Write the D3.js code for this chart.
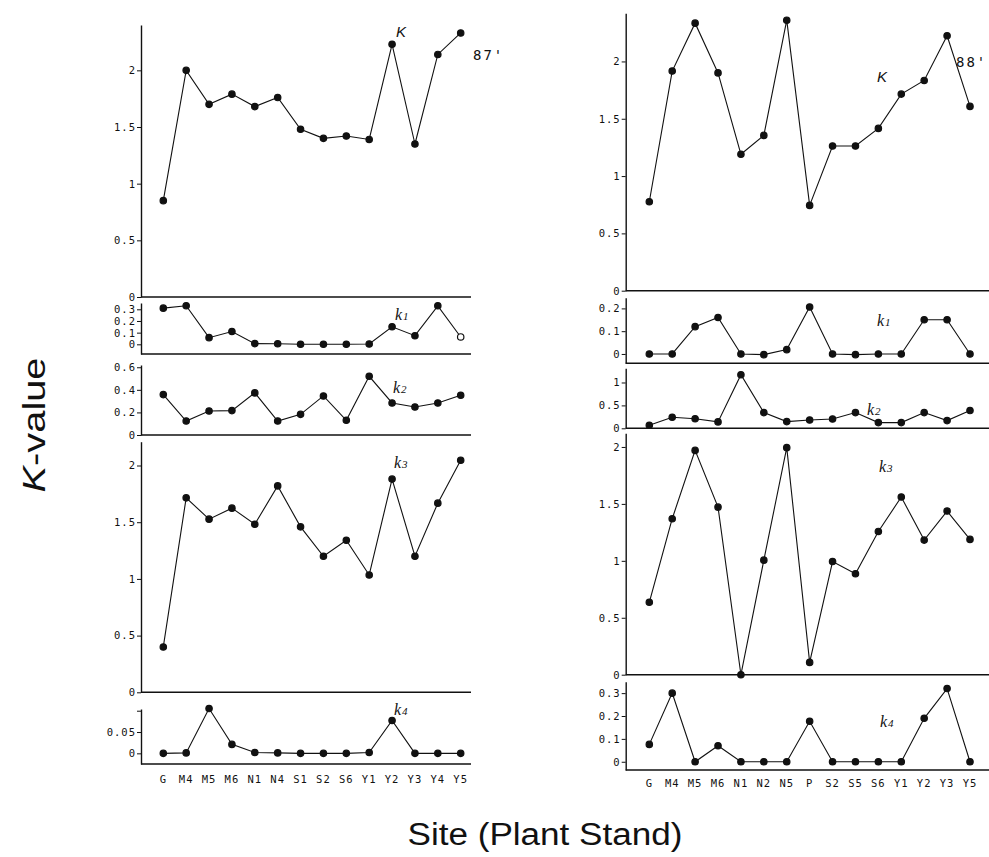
<!DOCTYPE html>
<html>
<head>
<meta charset="utf-8">
<script src="https://cdn.jsdelivr.net/npm/d3@7"></script>
<style>
  html, body { margin: 0; padding: 0; background: #fff; }
  svg { display: block; }
  .tick text { font-family: "DejaVu Sans Mono", "Liberation Mono", monospace; font-size: 10.5px; letter-spacing: 1px; fill: #111; }
  .cat { font-family: "DejaVu Sans Mono", "Liberation Mono", monospace; font-size: 10.5px; letter-spacing: 1px; fill: #111; }
</style>
</head>
<body>
<svg id="chart" width="989" height="857"></svg>
<script>
// ---------- DATA ----------
const sites87 = ["G","M4","M5","M6","N1","N4","S1","S2","S6","Y1","Y2","Y3","Y4","Y5"];
const sites88 = ["G","M4","M5","M6","N1","N2","N5","P","S2","S5","S6","Y1","Y2","Y3","Y5"];

const K87  = [0.85, 2.00, 1.70, 1.79, 1.68, 1.76, 1.48, 1.40, 1.42, 1.39, 2.23, 1.35, 2.14, 2.33];
const k1_87 = [0.31, 0.33, 0.057, 0.11, 0.006, 0.005, 0, 0, 0, 0.003, 0.15, 0.074, 0.33, 0.063];
const k2_87 = [0.358, 0.124, 0.213, 0.216, 0.373, 0.124, 0.183, 0.346, 0.13, 0.52, 0.284, 0.248, 0.284, 0.352];
const k3_87 = [0.40, 1.715, 1.527, 1.624, 1.482, 1.82, 1.459, 1.20, 1.341, 1.035, 1.88, 1.20, 1.668, 2.047];
const k4_87 = [0, 0.001, 0.105, 0.021, 0.002, 0.001, 0, 0, 0, 0.002, 0.077, 0, 0, 0];
const openPoints87k1 = ["Y5"];

const K88  = [0.776, 1.916, 2.334, 1.90, 1.19, 1.355, 2.36, 0.744, 1.262, 1.262, 1.416, 1.715, 1.834, 2.224, 1.608];
const k1_88 = [0, 0, 0.12, 0.16, 0, -0.003, 0.019, 0.206, 0, -0.003, 0, 0, 0.15, 0.15, 0];
const k2_88 = [0.066, 0.24, 0.21, 0.14, 1.17, 0.343, 0.146, 0.18, 0.204, 0.343, 0.124, 0.124, 0.343, 0.168, 0.387];
const k3_88 = [0.636, 1.37, 1.97, 1.472, 0, 1.006, 1.994, 0.108, 0.994, 0.886, 1.258, 1.56, 1.182, 1.437, 1.188];
const k4_88 = [0.076, 0.30, 0, 0.07, 0, 0, 0, 0.177, 0, 0, 0, 0, 0.19, 0.32, 0];

// tick labels
const ticksK    = [0, 0.5, 1, 1.5, 2];
const ticksK1_87 = [0, 0.1, 0.2, 0.3];
const ticksK2_87 = [0, 0.2, 0.4, 0.6];
const ticksK3   = [0, 0.5, 1, 1.5, 2];
const ticksK4_87 = [0, 0.05];
const ticksK4_87extra = [0.1];
const ticksK1_88 = [0, 0.1, 0.2];
const ticksK2_88 = [0, 0.5, 1];
const ticksK4_88 = [0, 0.1, 0.2, 0.3];

const yearLabels = ["87'", "88'"];
const seriesNames = ["K", "k1", "k2", "k3", "k4"];

// ---------- LAYOUT ----------
const svg = d3.select("#chart");

const cols = [
  { sites: sites87, x0: 141, x1: 471, p0: 163.3, p1: 460.7, year: yearLabels[0], yearX: 473, yearY: 60, catY: 783,
    panels: [
      { data: K87,   name: seriesNames[0], dom: [0, 2.4],      top: 25,    bot: 297,   ticks: ticksK,     lx: 396, ly: 37 },
      { data: k1_87, name: seriesNames[1], dom: [-0.083, 0.354], top: 303,  bot: 354,   ticks: ticksK1_87, lx: 395, ly: 320, open: openPoints87k1 },
      { data: k2_87, name: seriesNames[2], dom: [0, 0.62],      top: 365,   bot: 435,   ticks: ticksK2_87, lx: 393, ly: 393 },
      { data: k3_87, name: seriesNames[3], dom: [0, 2.21],      top: 441.7, bot: 692.3, ticks: ticksK3,    lx: 394, ly: 468 },
      { data: k4_87, name: seriesNames[4], dom: [-0.025, 0.104], top: 709,  bot: 764,   ticks: ticksK4_87, extra: ticksK4_87extra, lx: 394, ly: 715 }
    ]},
  { sites: sites88, x0: 625.7, x1: 989, p0: 649.3, p1: 970, year: yearLabels[1], yearX: 956, yearY: 67, catY: 787,
    panels: [
      { data: K88,   name: seriesNames[0], dom: [0, 2.42],      top: 13.3,  bot: 290.7, ticks: ticksK,     lx: 877, ly: 82 },
      { data: k1_88, name: seriesNames[1], dom: [-0.041, 0.247], top: 297.7, bot: 363.3, ticks: ticksK1_88, lx: 877, ly: 326 },
      { data: k2_88, name: seriesNames[2], dom: [0, 1.31],      top: 368.3, bot: 428.3, ticks: ticksK2_88, lx: 867, ly: 415 },
      { data: k3_88, name: seriesNames[3], dom: [0, 2.12],      top: 433.3, bot: 674.7, ticks: ticksK3,    lx: 879, ly: 472 },
      { data: k4_88, name: seriesNames[4], dom: [-0.036, 0.35], top: 681.7, bot: 770,   ticks: ticksK4_88, lx: 880, ly: 727 }
    ]}
];

const fmt = d => String(d);

cols.forEach(col => {
  const x = d3.scalePoint().domain(col.sites).range([col.p0, col.p1]);

  col.panels.forEach(p => {
    const y = d3.scaleLinear().domain(p.dom).range([p.bot, p.top]);
    const g = svg.append("g");

    // y axis
    const ax = g.append("g")
      .attr("transform", `translate(${col.x0},0)`)
      .call(d3.axisLeft(y).tickValues(p.ticks).tickFormat(fmt).tickSize(4).tickPadding(1).tickSizeOuter(0));
    ax.select(".domain").attr("stroke", "#111").attr("stroke-width", 1.4);
    ax.selectAll(".tick line").attr("stroke", "#111");
    if (p.extra) {
      g.append("g").attr("transform", `translate(${col.x0},0)`)
        .call(d3.axisLeft(y).tickValues(p.extra).tickFormat("").tickSize(4).tickSizeOuter(0))
        .call(s => s.select(".domain").remove())
        .selectAll(".tick line").attr("stroke", "#111");
    }

    // bottom line
    g.append("line")
      .attr("x1", col.x0).attr("x2", col.x1)
      .attr("y1", p.bot).attr("y2", p.bot)
      .attr("stroke", "#111").attr("stroke-width", 1.4);

    // series line
    const pts = col.sites.map((s, i) => ({ s, v: p.data[i] }));
    g.append("path")
      .datum(pts)
      .attr("fill", "none")
      .attr("stroke", "#111")
      .attr("stroke-width", 1.1)
      .attr("d", d3.line().x(d => x(d.s)).y(d => y(d.v)));

    g.selectAll("circle")
      .data(pts)
      .join("circle")
      .attr("cx", d => x(d.s))
      .attr("cy", d => y(d.v))
      .attr("r", 3.2)
      .attr("fill", d => (p.open && p.open.includes(d.s)) ? "#fff" : "#111")
      .attr("stroke", "#111")
      .attr("stroke-width", 1.2);

    // series label
    const t = g.append("text")
      .attr("x", p.lx).attr("y", p.ly)
      .attr("font-family", "'Liberation Serif', 'DejaVu Serif', serif")
      .attr("font-style", "italic")
      .attr("font-size", 16)
      .attr("fill", "#111");
    if (p.name.length === 1) {
      t.text(p.name).attr("font-family", "'Liberation Sans', Arial, sans-serif").attr("font-size", 15);
    } else {
      t.append("tspan").text(p.name[0]);
      t.append("tspan").attr("font-size", 11).attr("dx", 1).text(p.name.slice(1));
    }
  });

  // category labels
  svg.append("g").selectAll("text")
    .data(col.sites)
    .join("text")
    .attr("class", "cat")
    .attr("x", d => x(d))
    .attr("y", col.catY)
    .attr("text-anchor", "middle")
    .text(d => d);

  // year label
  svg.append("text")
    .attr("x", col.yearX).attr("y", col.yearY)
    .attr("font-family", "'DejaVu Sans Mono', 'Liberation Mono', monospace")
    .attr("font-size", 14)
    .attr("letter-spacing", 2)
    .attr("fill", "#111")
    .text(col.year);
});

// axis titles
const yt = svg.append("text")
  .attr("transform", "translate(45,425) rotate(-90)")
  .attr("text-anchor", "middle")
  .attr("font-family", "'Liberation Sans', Arial, Helvetica, sans-serif")
  .attr("font-size", 31)
  .attr("textLength", 135)
  .attr("lengthAdjust", "spacingAndGlyphs")
  .attr("fill", "#111");
yt.append("tspan").attr("font-style", "italic").text("K");
yt.append("tspan").text("-value");

svg.append("text")
  .attr("x", 545).attr("y", 845)
  .attr("text-anchor", "middle")
  .attr("font-family", "'Liberation Sans', Arial, Helvetica, sans-serif")
  .attr("font-size", 31)
  .attr("textLength", 275)
  .attr("lengthAdjust", "spacingAndGlyphs")
  .attr("fill", "#111")
  .text("Site (Plant Stand)");
</script>
</body>
</html>
